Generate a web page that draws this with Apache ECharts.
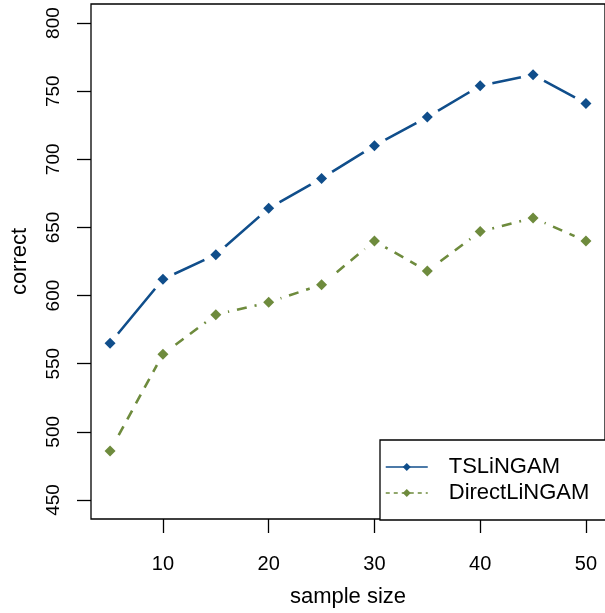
<!DOCTYPE html>
<html>
<head>
<meta charset="utf-8">
<script src="https://cdn.jsdelivr.net/npm/echarts@6/dist/echarts.min.js"></script>
<style>
  html, body { margin: 0; padding: 0; background: #fff; }
  #chart { width: 605px; height: 613px; }
</style>
</head>
<body>
<div id="chart"></div>
<script>
var sampleSize = [5, 10, 15, 20, 25, 30, 35, 40, 45, 50];
var tslingam = [565, 612, 630, 664, 686, 710, 731, 754, 762, 741];
var directLingam = [486, 557, 586, 595, 608, 640, 618, 647, 657, 640];
var xTicks = [10, 20, 30, 40, 50];
var yTicks = [450, 500, 550, 600, 650, 700, 750, 800];

var blue = '#104E8B';
var green = '#6E8B3D';
var font = 'Liberation Sans, Arial, Helvetica, sans-serif';

function pairs(ys) {
    return sampleSize.map(function (x, i) { return [x, ys[i]]; });
}

var myChart = echarts.init(document.getElementById('chart'));
var option = {
    backgroundColor: '#fff',
    animation: false,
    grid: {
        left: 91, top: 4, width: 516, height: 517,
        show: true, borderColor: '#000', borderWidth: 1.3, backgroundColor: 'transparent'
    },
    xAxis: {
        type: 'value', min: 3.2, max: 51.8,
        name: 'sample size', nameLocation: 'middle', nameGap: 67,
        nameTextStyle: { fontFamily: font, fontSize: 22, color: '#000' },
        axisLine: { show: false },
        splitLine: { show: false },
        axisTick: { show: true, length: 14, lineStyle: { color: '#000', width: 1.3 }, customValues: xTicks },
        axisLabel: { fontFamily: font, fontSize: 20, color: '#000', margin: 35, customValues: xTicks }
    },
    yAxis: {
        type: 'value', min: 436, max: 814,
        name: 'correct', nameLocation: 'middle', nameGap: 60,
        nameTextStyle: { fontFamily: font, fontSize: 22, color: '#000' },
        axisLine: { show: false },
        splitLine: { show: false },
        axisTick: { show: true, length: 14, lineStyle: { color: '#000', width: 1.3 }, customValues: yTicks },
        axisLabel: { fontFamily: font, fontSize: 19, color: '#000', margin: 28, rotate: 90, customValues: yTicks }
    },
    legend: {
        orient: 'vertical',
        left: 380, top: 440,
        padding: [16, 20, 16, 5],
        itemGap: 4,
        itemWidth: 42, itemHeight: 10,
        borderColor: '#000', borderWidth: 1.3, borderRadius: 0,
        backgroundColor: '#fff',
        textStyle: { fontFamily: font, fontSize: 22, color: '#000', lineHeight: 22, padding: [0, 0, 0, 16] },
        data: [
            { name: 'TSLiNGAM', lineStyle: { width: 1.5, type: 'solid' } },
            { name: 'DirectLiNGAM', lineStyle: { width: 1.5, type: [4, 4] } }
        ]
    },
    series: [
        {
            name: 'TSLiNGAM', type: 'line', data: pairs(tslingam),
            symbol: 'diamond', showSymbol: false, itemStyle: { color: blue },
            lineStyle: { color: blue, width: 2.6 }, z: 2
        },
        {
            name: 'DirectLiNGAM', type: 'line', data: pairs(directLingam),
            symbol: 'diamond', showSymbol: false, itemStyle: { color: green },
            lineStyle: { color: green, width: 2.6, type: [10, 8] }, z: 2
        },
        {
            name: 'halo', type: 'scatter', data: pairs(tslingam).concat(pairs(directLingam)),
            symbol: 'circle', symbolSize: 23,
            itemStyle: { color: 'white', borderColor: 'white', borderWidth: 2, opacity: 1 }, z: 3
        },
        {
            name: 'ptsA', type: 'scatter', data: pairs(tslingam), symbol: 'diamond', symbolSize: 11,
            itemStyle: { color: blue, opacity: 1 }, z: 4
        },
        {
            name: 'ptsB', type: 'scatter', data: pairs(directLingam), symbol: 'diamond', symbolSize: 11,
            itemStyle: { color: green, opacity: 1 }, z: 4
        }
    ]
};
myChart.setOption(option);
</script>
</body>
</html>
